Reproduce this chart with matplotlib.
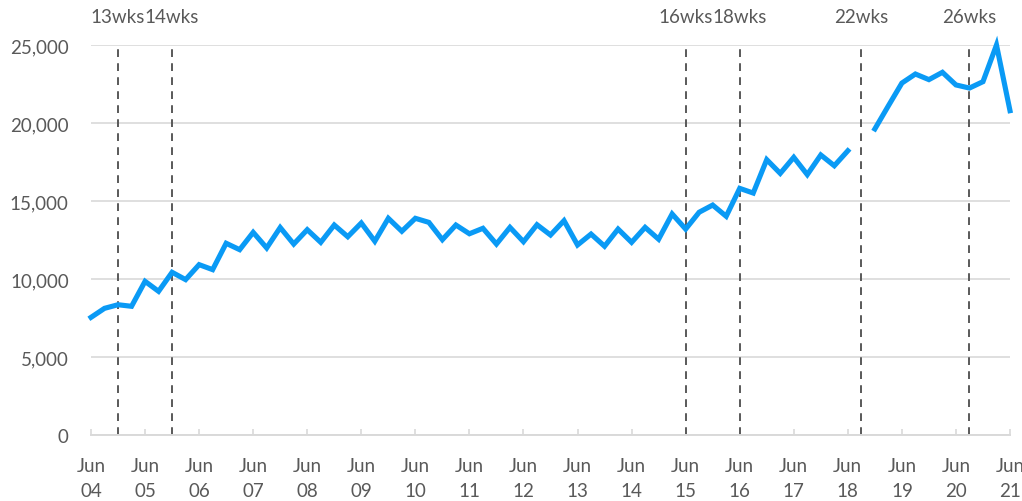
"""Quarterly series with duration markers (wks), recreated from the reference chart."""

import matplotlib

matplotlib.use("Agg")
import matplotlib.pyplot as plt  # noqa: E402
import numpy as np  # noqa: E402
import pandas as pd  # noqa: E402

quarters = pd.period_range("2004Q2", "2021Q2", freq="Q")
values = [
    7540, 8120, 8350, 8250, 9850, 9210, 10430, 9960, 10920, 10600,
    12290, 11880, 12990, 11990, 13300, 12240, 13160, 12350, 13460, 12710,
    13590, 12420, 13890, 13060, 13890, 13630, 12520, 13460, 12900, 13250,
    12240, 13310, 12390, 13480, 12820, 13740, 12180, 12880, 12100, 13200,
    12350, 13310, 12550, 14170, 13200, 14280, 14740, 14020, 15810, 15510,
    17650, 16770, 17800, 16690, 17950, 17260, 18220, np.nan, 19620, 21100,
    22560, 23140, 22780, 23250, 22440, 22240, 22650, 25000, 20790,
]
marker_quarters = ["2004Q4", "2005Q4", "2015Q2", "2016Q2", "2018Q3", "2020Q3"]
marker_labels = ["13wks", "14wks", "16wks", "18wks", "22wks", "26wks"]
yticks = [0, 5000, 10000, 15000, 20000, 25000]

GRID = "#d9d9d9"
TEXT = "#595959"
plt.rcParams["font.family"] = ["Lato", "DejaVu Sans"]

x = np.arange(len(quarters))
fig = plt.figure(figsize=(10.22, 5.02), dpi=100)
ax = fig.add_axes([91 / 1022, 66 / 502, 919 / 1022, 390 / 502])

ax.plot(x, values, color="#0a9af5", lw=3.7, solid_joinstyle="miter", clip_on=False, zorder=3)

for q, lab in zip(marker_quarters, marker_labels):
    pos = quarters.get_loc(pd.Period(q, freq="Q"))
    ax.axvline(pos, color=TEXT, ls=(0, (4, 3.2)), lw=1.4, zorder=2)
    ax.text(pos, 1.072, lab, transform=ax.get_xaxis_transform(), ha="center",
            va="center", fontsize=13.5, color=TEXT)

ax.set_xlim(0, len(quarters) - 1)
ax.set_ylim(0, 25000)
ax.set_yticks(yticks)
ax.set_yticklabels([f"{v:,}" for v in yticks])
ticks = [i for i, q in enumerate(quarters) if q.quarter == 2]
ax.set_xticks(ticks)
ax.set_xticklabels([f"Jun\n{quarters[i].year % 100:02d}" for i in ticks], linespacing=1.55)
ax.grid(axis="y", color=GRID, lw=1.2)
ax.set_axisbelow(True)
for side in ("top", "right", "left"):
    ax.spines[side].set_visible(False)
ax.spines["bottom"].set_color(GRID)
ax.spines["bottom"].set_linewidth(1.4)
ax.tick_params(axis="y", length=0, pad=16, labelsize=13.5, labelcolor=TEXT)
ax.tick_params(axis="x", direction="in", length=4, width=1.2, color=GRID, pad=16,
               labelsize=13.5, labelcolor=TEXT)

fig.savefig("out.png", dpi=100)
